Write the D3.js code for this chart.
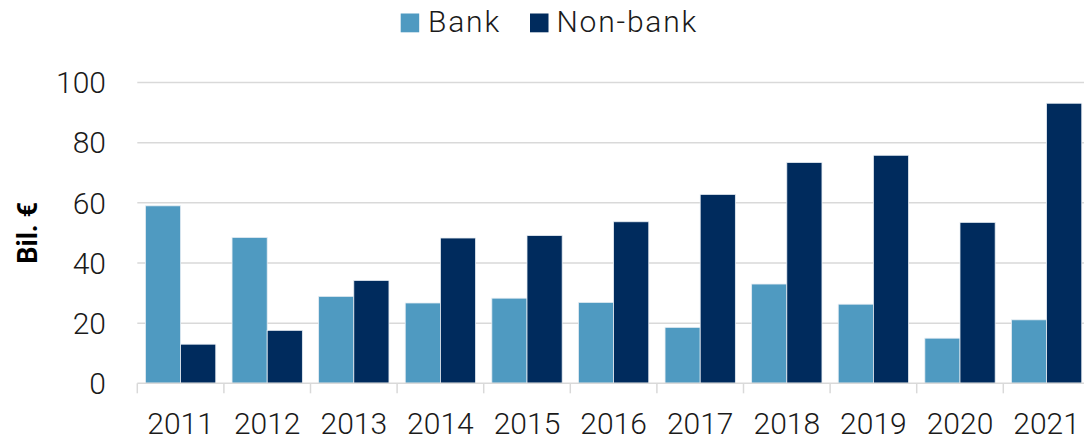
<!DOCTYPE html>
<html>
<head>
<meta charset="utf-8">
<script src="https://cdn.jsdelivr.net/npm/d3@7"></script>
<style>
  html, body { margin: 0; padding: 0; background: #fff; }
  svg { display: block; font-family: Roboto, "Noto Sans", sans-serif; }
</style>
</head>
<body>
<svg id="chart" width="1084" height="440"></svg>
<script>
const years = ["2011","2012","2013","2014","2015","2016","2017","2018","2019","2020","2021"];
const seriesNames = ["Bank", "Non-bank"];
const bankValues = [59.0, 48.5, 28.9, 26.7, 28.3, 26.9, 18.6, 33.0, 26.3, 15.0, 21.1];
const nonBankValues = [13.0, 17.6, 34.2, 48.3, 49.1, 53.7, 62.8, 73.4, 75.8, 53.5, 93.1];
const yTicks = [0, 20, 40, 60, 80, 100];
const yTitle = "Bil. €";
const colors = ["#4f9ac1", "#002b5d"];

const svg = d3.select("#chart");
const left = 137.3, step = 86.6;
const x = d3.scaleBand().domain(years).range([left, left + step * years.length])
  .paddingInner(0.188).paddingOuter(0.094);
const xs = d3.scaleBand().domain(seriesNames).range([0, x.bandwidth()]);
const y = d3.scaleLinear().domain([0, 100]).range([383.3, 82.5]);

// gridlines
svg.append("g").selectAll("line").data(yTicks.filter(d => d > 0)).join("line")
  .attr("x1", left).attr("x2", 1084)
  .attr("y1", d => y(d)).attr("y2", d => y(d))
  .attr("stroke", "#d9d9d9").attr("stroke-width", 1.5);

// y tick labels
svg.append("g").selectAll("text").data(yTicks).join("text")
  .attr("x", 106).attr("y", d => y(d)).attr("dy", "0.36em")
  .attr("text-anchor", "end").attr("font-size", 30).attr("font-weight", 300)
  .attr("fill", "#1a1a1a").text(d => d);

// y title
svg.append("text")
  .attr("transform", `translate(37,${(y(0) + y(100)) / 2}) rotate(-90)`)
  .attr("text-anchor", "middle").attr("font-size", 27).attr("font-weight", 700)
  .attr("fill", "#000").text(yTitle);

// bars
const data = years.map((yr, i) => ({ year: yr, vals: [bankValues[i], nonBankValues[i]] }));
const groups = svg.append("g").selectAll("g").data(data).join("g")
  .attr("transform", d => `translate(${x(d.year)},0)`);
groups.selectAll("rect").data(d => d.vals.map((v, j) => ({ key: seriesNames[j], v, j })))
  .join("rect")
  .attr("x", d => xs(d.key)).attr("width", xs.bandwidth())
  .attr("y", d => y(d.v)).attr("height", d => y(0) - y(d.v))
  .attr("fill", d => colors[d.j])
  .attr("stroke", "#e6edf3").attr("stroke-width", 0.8);

// x axis
const axisG = svg.append("g").attr("transform", `translate(0,${y(0)})`);
axisG.append("line").attr("x1", left).attr("x2", 1084).attr("y1", 0).attr("y2", 0)
  .attr("stroke", "#d9d9d9").attr("stroke-width", 1.5);
const boundaries = years.map(yr => x(yr) - x.step() * x.paddingInner() / 2);
axisG.selectAll("line.tk").data(boundaries).join("line").attr("class", "tk")
  .attr("x1", d => d).attr("x2", d => d).attr("y1", 0).attr("y2", 10)
  .attr("stroke", "#d9d9d9").attr("stroke-width", 1.5);
axisG.selectAll("text").data(years).join("text")
  .attr("x", d => x(d) + x.bandwidth() / 2).attr("y", 51)
  .attr("text-anchor", "middle").attr("font-size", 30).attr("font-weight", 300)
  .attr("fill", "#1a1a1a").text(d => d);

// legend
const legendItems = [
  { name: seriesNames[0], color: colors[0], sx: 400.7, tx: 428 },
  { name: seriesNames[1], color: colors[1], sx: 530, tx: 556.5 }
];
const lg = svg.append("g");
lg.selectAll("rect").data(legendItems).join("rect")
  .attr("x", d => d.sx).attr("y", 13.5).attr("width", 18.5).attr("height", 18.8)
  .attr("fill", d => d.color);
lg.selectAll("text").data(legendItems).join("text")
  .attr("x", d => d.tx).attr("y", 31.7)
  .attr("font-size", 30).attr("font-weight", 300).attr("fill", "#1a1a1a")
  .attr("letter-spacing", 1.8)
  .text(d => d.name);
</script>
</body>
</html>
